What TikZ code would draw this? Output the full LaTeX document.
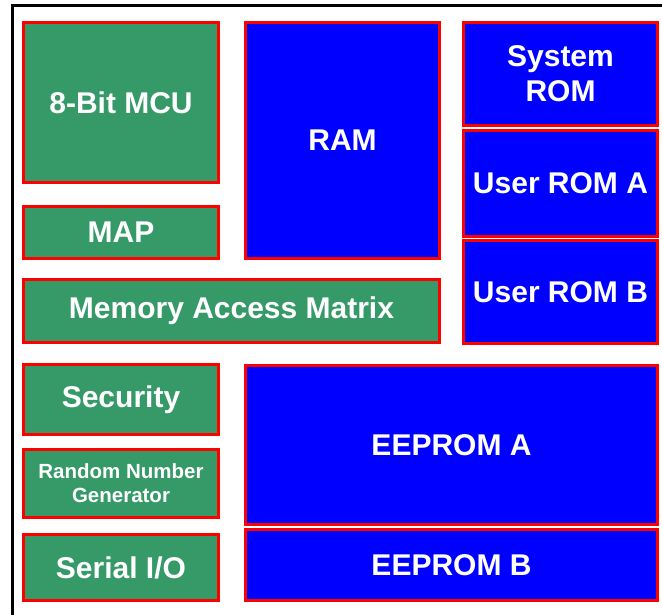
\documentclass[tikz,border=0pt]{standalone}
\usepackage{fontspec}
\setmainfont{Liberation Sans}
\definecolor{chipgreen}{HTML}{359968}
\definecolor{chipblue}{HTML}{0000FF}
\begin{document}
\begin{tikzpicture}[x=1pt,y=-1pt,
  blk/.style={draw=red, line width=3pt, inner sep=0pt, outer sep=0pt, text=white,
    font=\fontsize{30}{35}\selectfont\bfseries, align=center},
  gblk/.style={blk, fill=chipgreen},
  bblk/.style={blk, fill=chipblue}]
\useasboundingbox (0,0) rectangle (662,615);
\clip (0,0) rectangle (662,615);
\draw[line width=3pt] (12.5,5.5) rectangle (700,700);
\node[gblk, minimum width=195, minimum height=160] (mcu) at (121,102.5) {8-Bit MCU};
\node[bblk, minimum width=194, minimum height=236] (ram) at (342.5,140.5) {RAM};
\node[gblk, minimum width=195, minimum height=52] (map) at (121,232.5) {MAP};
\node[gblk, minimum width=416, minimum height=63] (mam) at (231.5,311) {Memory Access Matrix};
\node[bblk, minimum width=194, minimum height=103] (sysrom) at (560.5,74) {System\\ROM};
\node[bblk, minimum width=194, minimum height=106] (roma) at (560.5,183.5) {User ROM A};
\node[bblk, minimum width=194, minimum height=103] (romb) at (560.5,292) {User ROM B};
\node[gblk, minimum width=195, minimum height=70] (sec) at (121,399.5) {Security};
\node[gblk, minimum width=195, minimum height=68, font=\fontsize{20.5}{24}\selectfont\bfseries] (rng) at (121,483.5) {Random Number\\Generator};
\node[gblk, minimum width=195, minimum height=66] (sio) at (121,567.5) {Serial I/O};
\node[bblk, minimum width=412, minimum height=159] (eea) at (451.5,445) {EEPROM A};
\node[bblk, minimum width=412, minimum height=71] (eeb) at (451.5,565) {EEPROM B};
\end{tikzpicture}
\end{document}
